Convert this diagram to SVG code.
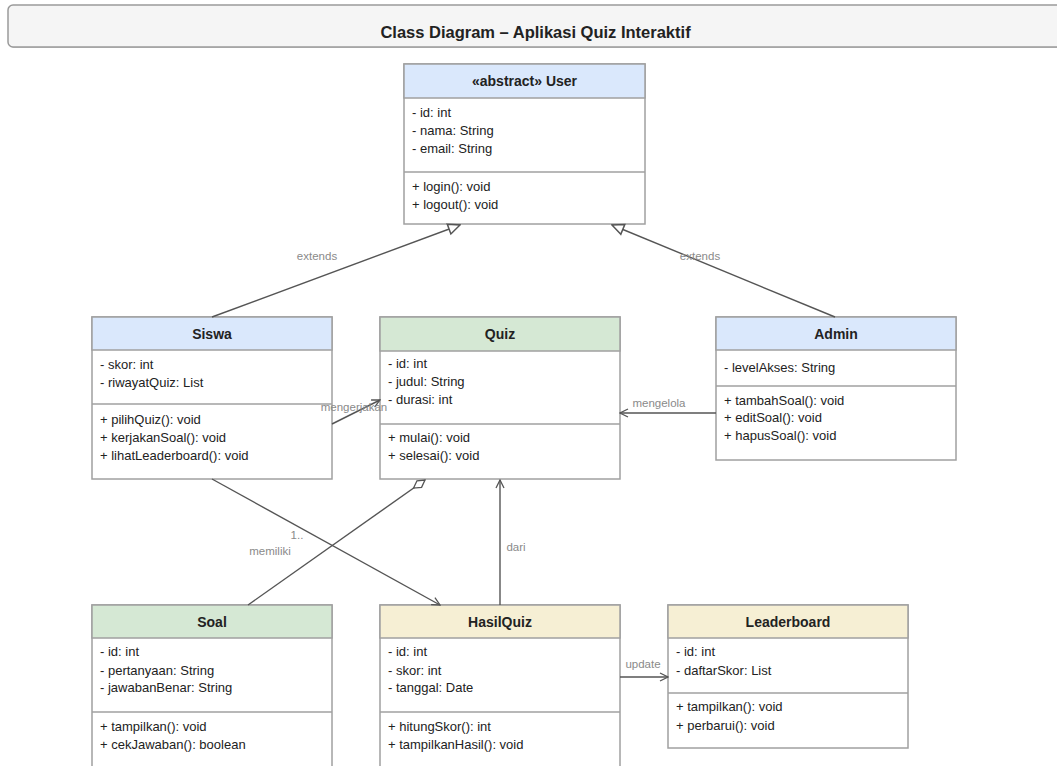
<svg xmlns="http://www.w3.org/2000/svg" width="1057" height="766" viewBox="0 0 1057 766">
<style>
.box{fill:#ffffff;stroke:#a0a0a0;stroke-width:1.5}
.sep{stroke:#a0a0a0;stroke-width:1.5}
.hb{fill:#dae8fc;stroke:#a0a0a0;stroke-width:1.5}
.hg{fill:#d5e8d4;stroke:#a0a0a0;stroke-width:1.5}
.hy{fill:#f6efd4;stroke:#a0a0a0;stroke-width:1.5}
.name{font-family:"Liberation Sans",Arial,sans-serif;font-size:14px;font-weight:bold;fill:#222;text-anchor:middle}
.m{font-family:"Liberation Sans",Arial,sans-serif;font-size:13px;fill:#222}
.lbl{font-family:"Liberation Sans",Arial,sans-serif;font-size:11.5px;fill:#8a8a8a;text-anchor:middle}
.edge{fill:none;stroke:#555;stroke-width:1.4}
.title{font-family:"Liberation Sans",Arial,sans-serif;font-size:16.5px;font-weight:bold;fill:#222;text-anchor:middle}
</style>
<defs>
<marker id="tri" markerUnits="userSpaceOnUse" markerWidth="14" markerHeight="14" viewBox="0 0 12 12" refX="11" refY="6" orient="auto">
<path d="M1,1.5 L11,6 L1,10.5 Z" fill="#fff" stroke="#555" stroke-width="1.3"/>
</marker>
<marker id="open" markerUnits="userSpaceOnUse" markerWidth="10" markerHeight="10" viewBox="0 0 10 10" refX="9" refY="5" orient="auto">
<path d="M1,1 L9,5 L1,9" fill="none" stroke="#555" stroke-width="1.3"/>
</marker>
<marker id="dia" markerUnits="userSpaceOnUse" markerWidth="16" markerHeight="12" viewBox="0 0 16 12" refX="15" refY="6" orient="auto">
<path d="M1,6 L8,2 L15,6 L8,10 Z" fill="#fff" stroke="#555" stroke-width="1.3"/>
</marker>
</defs>
<rect x="0" y="0" width="1057" height="766" fill="#ffffff"/>
<g id="title-bar">
<rect x="9" y="6" width="1060" height="42" rx="5" fill="#c8c8c8"/>
<rect x="8" y="5" width="1060" height="42" rx="5" fill="#f5f5f5" stroke="#9a9a9a" stroke-width="1.5"/>
<text class="title" x="535.5" y="38">Class Diagram – Aplikasi Quiz Interaktif</text>
</g>
<g id="User">
<rect class="box" x="404" y="64" width="241" height="160"/>
<rect class="hb" x="404" y="64" width="241" height="34"/>
<text class="name" x="524.5" y="86">«abstract» User</text>
<text class="m" x="412" y="117">- id: int</text>
<text class="m" x="412" y="135">- nama: String</text>
<text class="m" x="412" y="153">- email: String</text>
<line class="sep" x1="404" y1="172" x2="645" y2="172"/>
<text class="m" x="412" y="191">+ login(): void</text>
<text class="m" x="412" y="209">+ logout(): void</text>
</g>
<g id="Siswa">
<rect class="box" x="92" y="317" width="240" height="162"/>
<rect class="hb" x="92" y="317" width="240" height="33"/>
<text class="name" x="212" y="338.5">Siswa</text>
<text class="m" x="100" y="368.5">- skor: int</text>
<text class="m" x="100" y="386.5">- riwayatQuiz: List</text>
<line class="sep" x1="92" y1="404" x2="332" y2="404"/>
<text class="m" x="100" y="424">+ pilihQuiz(): void</text>
<text class="m" x="100" y="442">+ kerjakanSoal(): void</text>
<text class="m" x="100" y="460">+ lihatLeaderboard(): void</text>
</g>
<g id="Quiz">
<rect class="box" x="380" y="317" width="240" height="162"/>
<rect class="hg" x="380" y="317" width="240" height="34"/>
<text class="name" x="500" y="338.5">Quiz</text>
<text class="m" x="388" y="368">- id: int</text>
<text class="m" x="388" y="386">- judul: String</text>
<text class="m" x="388" y="404">- durasi: int</text>
<line class="sep" x1="380" y1="424" x2="620" y2="424"/>
<text class="m" x="388" y="442">+ mulai(): void</text>
<text class="m" x="388" y="460">+ selesai(): void</text>
</g>
<g id="Admin">
<rect class="box" x="716" y="317" width="240" height="143"/>
<rect class="hb" x="716" y="317" width="240" height="33"/>
<text class="name" x="836" y="338.5">Admin</text>
<text class="m" x="724" y="372">- levelAkses: String</text>
<line class="sep" x1="716" y1="386" x2="956" y2="386"/>
<text class="m" x="724" y="404.5">+ tambahSoal(): void</text>
<text class="m" x="724" y="422">+ editSoal(): void</text>
<text class="m" x="724" y="440">+ hapusSoal(): void</text>
</g>
<g id="Soal">
<rect class="box" x="92" y="605" width="240" height="175"/>
<rect class="hg" x="92" y="605" width="240" height="33"/>
<text class="name" x="212" y="626.5">Soal</text>
<text class="m" x="100" y="656">- id: int</text>
<text class="m" x="100" y="674.5">- pertanyaan: String</text>
<text class="m" x="100" y="692">- jawabanBenar: String</text>
<line class="sep" x1="92" y1="712" x2="332" y2="712"/>
<text class="m" x="100" y="730.5">+ tampilkan(): void</text>
<text class="m" x="100" y="748.5">+ cekJawaban(): boolean</text>
</g>
<g id="HasilQuiz">
<rect class="box" x="380" y="605" width="240" height="175"/>
<rect class="hy" x="380" y="605" width="240" height="33"/>
<text class="name" x="500" y="626.5">HasilQuiz</text>
<text class="m" x="388" y="656">- id: int</text>
<text class="m" x="388" y="674.5">- skor: int</text>
<text class="m" x="388" y="692">- tanggal: Date</text>
<line class="sep" x1="380" y1="712" x2="620" y2="712"/>
<text class="m" x="388" y="730.5">+ hitungSkor(): int</text>
<text class="m" x="388" y="748.5">+ tampilkanHasil(): void</text>
</g>
<g id="Leaderboard">
<rect class="box" x="668" y="605" width="240" height="143"/>
<rect class="hy" x="668" y="605" width="240" height="33"/>
<text class="name" x="788" y="626.5">Leaderboard</text>
<text class="m" x="676" y="656">- id: int</text>
<text class="m" x="676" y="674.5">- daftarSkor: List</text>
<line class="sep" x1="668" y1="693" x2="908" y2="693"/>
<text class="m" x="676" y="711">+ tampilkan(): void</text>
<text class="m" x="676" y="729.5">+ perbarui(): void</text>
</g>
<g id="connectors">
<path class="edge" d="M212,317 L460,225" marker-end="url(#tri)"/>
<path class="edge" d="M835,317 L612,225" marker-end="url(#tri)"/>
<path class="edge" d="M332,424 L380,400" marker-end="url(#open)"/>
<path class="edge" d="M716,413 L620,413" marker-end="url(#open)"/>
<path class="edge" d="M248,605 L425,480" marker-end="url(#dia)"/>
<path class="edge" d="M212,479 L440,605" marker-end="url(#open)"/>
<path class="edge" d="M500,605 L500,480" marker-end="url(#open)"/>
<path class="edge" d="M620,677 L668,677" marker-end="url(#open)"/>
<text class="lbl" x="317" y="260">extends</text>
<text class="lbl" x="700" y="260">extends</text>
<text class="lbl" x="354" y="411">mengerjakan</text>
<text class="lbl" x="659" y="407">mengelola</text>
<text class="lbl" x="297" y="539">1..</text>
<text class="lbl" x="270" y="555">memiliki</text>
<text class="lbl" x="516" y="551">dari</text>
<text class="lbl" x="643" y="668">update</text>
</g>
</svg>
